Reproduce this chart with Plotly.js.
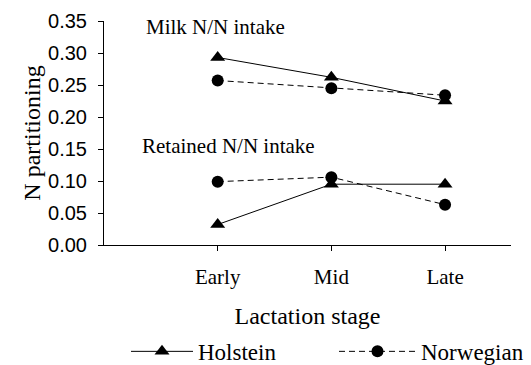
<!DOCTYPE html>
<html>
<head>
<meta charset="utf-8">
<script src="https://cdn.plot.ly/plotly-3.0.1.min.js"></script>
<style>
  html, body { margin: 0; padding: 0; background: #fff; }
  #chart { width: 531px; height: 365px; }
</style>
</head>
<body>
<div id="chart"></div>
<script>
// Lactation stages on the x axis
const stages = ['Early', 'Mid', 'Late'];
const stagePos = [1, 2, 3];

// Milk N / N intake
const holsteinMilk = [0.293, 0.262, 0.225];
const norwegianMilk = [0.257, 0.245, 0.234];

// Retained N / N intake
const holsteinRetained = [0.032, 0.095, 0.095];
const norwegianRetained = [0.099, 0.106, 0.063];

const yTicks = [0, 0.05, 0.10, 0.15, 0.20, 0.25, 0.30, 0.35];

const serif = 'Liberation Serif, Times New Roman, serif';
const sans = 'Liberation Sans, Arial, sans-serif';

const holsteinStyle = {
  line: { color: '#000', width: 1 },
  marker: { symbol: 'triangle-up', size: 13, color: '#000' }
};
const norwegianStyle = {
  line: { color: '#000', width: 1, dash: '6px,4px' },
  marker: { symbol: 'circle', size: 12, color: '#000' }
};

const traces = [
  Object.assign({ x: stagePos, y: holsteinMilk, mode: 'lines+markers', name: 'Holstein', legend: 'legend', legendgroup: 'h', showlegend: true }, holsteinStyle),
  Object.assign({ x: stagePos, y: norwegianMilk, mode: 'lines+markers', name: 'Norwegian', legend: 'legend2', legendgroup: 'n', showlegend: true }, norwegianStyle),
  Object.assign({ x: stagePos, y: holsteinRetained, mode: 'lines+markers', name: 'Holstein', legendgroup: 'h', showlegend: false }, holsteinStyle),
  Object.assign({ x: stagePos, y: norwegianRetained, mode: 'lines+markers', name: 'Norwegian', legendgroup: 'n', showlegend: false }, norwegianStyle)
];

const legendBase = {
  orientation: 'h',
  xanchor: 'left',
  yanchor: 'middle',
  y: -0.475,
  bgcolor: 'rgba(0,0,0,0)',
  font: { family: serif, size: 23, color: '#000' }
};

const layout = {
  width: 531,
  height: 365,
  paper_bgcolor: '#fff',
  plot_bgcolor: '#fff',
  margin: { l: 104, r: 20, t: 21, b: 120, autoexpand: false },
  showlegend: true,
  legend: Object.assign({}, legendBase, { x: (141 - 104 - 15) / 407, itemwidth: 62 }),
  legend2: Object.assign({}, legendBase, { x: (349 - 104 - 15) / 407, itemwidth: 77 }),
  xaxis: {
    range: [0, 3.58],
    tickmode: 'array',
    tickvals: stagePos,
    ticktext: stages,
    ticks: 'outside',
    ticklen: 5,
    tickcolor: '#000',
    showgrid: false,
    zeroline: false,
    showline: true,
    linecolor: '#000',
    linewidth: 1,
    ticklabelstandoff: 8,
    tickfont: { family: serif, size: 21, color: '#000' },
    title: { text: 'Lactation stage', font: { family: serif, size: 24, color: '#000' }, standoff: 18 },
    automargin: false
  },
  yaxis: {
    range: [0, 0.35],
    tickmode: 'array',
    tickvals: yTicks,
    ticktext: yTicks.map(v => v.toFixed(2)),
    ticks: 'outside',
    ticklen: 5,
    tickcolor: '#000',
    showgrid: false,
    zeroline: false,
    showline: true,
    linecolor: '#000',
    linewidth: 1,
    ticklabelstandoff: 7,
    tickfont: { family: sans, size: 20, color: '#000' },
    title: { text: 'N partitioning', font: { family: serif, size: 24, color: '#000' }, standoff: 0 },
    automargin: false
  },
  annotations: [
    { x: 0.35, y: 0.341, xref: 'x', yref: 'y', xanchor: 'left', yanchor: 'middle', showarrow: false,
      text: 'Milk N/N intake', font: { family: serif, size: 21, color: '#000' } },
    { x: 0.32, y: 0.154, xref: 'x', yref: 'y', xanchor: 'left', yanchor: 'middle', showarrow: false,
      text: 'Retained N/N intake', font: { family: serif, size: 21, color: '#000' } }
  ]
};

Plotly.newPlot('chart', traces, layout, { staticPlot: true, displayModeBar: false });
</script>
</body>
</html>
